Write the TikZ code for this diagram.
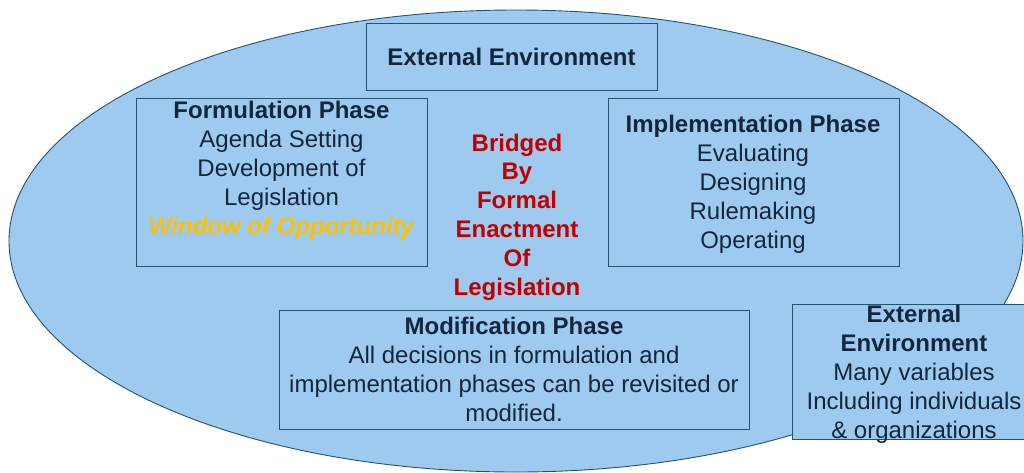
\documentclass[tikz,border=0pt]{standalone}
\usepackage{fontspec}
\setmainfont{Liberation Sans}
\definecolor{fillblue}{HTML}{9FCAF0}
\definecolor{edgeblue}{HTML}{24536F}
\definecolor{navy}{HTML}{12263F}
\definecolor{darkred}{HTML}{C00000}
\definecolor{gold}{HTML}{FFC000}
\begin{document}
\begin{tikzpicture}[x=1pt,y=-1pt,
  phasebox/.style={draw=edgeblue,line width=0.9pt,fill=fillblue,inner sep=0pt,anchor=north west},
  txt/.style={text=navy,align=center,font=\fontsize{24}{28.8}\selectfont,inner sep=0pt},
  redtxt/.style={text=darkred,align=center,font=\fontsize{24}{28.8}\selectfont\bfseries,inner sep=0pt}]
\useasboundingbox (0,0) rectangle (1024,472);
\draw[draw=edgeblue,line width=0.9pt,fill=fillblue] (516,241) ellipse [x radius=507, y radius=231];
% boxes
\node[phasebox,minimum width=291pt,minimum height=67pt] (ext1) at (366,23) {};
\node[phasebox,minimum width=291pt,minimum height=168pt] (form) at (136,98) {};
\node[phasebox,minimum width=291pt,minimum height=168pt] (impl) at (608,98) {};
\node[phasebox,minimum width=470pt,minimum height=119pt] (modi) at (279,310) {};
\node[phasebox,minimum width=244pt,minimum height=135pt] (ext2) at (792,304) {};
% texts
\node[txt,font=\fontsize{24}{28.8}\selectfont\bfseries,anchor=base] (ext1t) at (511.5,65) {External Environment};
\node[txt,anchor=base] (formt) at (281.5,234) {\textbf{Formulation Phase}\\Agenda Setting\\Development of\\Legislation\\\textcolor{gold}{\bfseries\itshape Window of Opportunity}};
\node[txt,anchor=base] (implt) at (753,248) {\textbf{Implementation Phase}\\Evaluating\\Designing\\Rulemaking\\Operating};
\node[redtxt,anchor=base] (bridge) at (517,295) {Bridged\\By\\Formal\\Enactment\\Of\\Legislation};
\node[txt,anchor=base] (modit) at (514,421) {\textbf{Modification Phase}\\All decisions in formulation and\\implementation phases can be revisited or\\modified.};
\node[txt,anchor=base] (ext2t) at (914,438) {\textbf{External}\\\textbf{Environment}\\Many variables\\Including individuals\\\& organizations};
\end{tikzpicture}
\end{document}
